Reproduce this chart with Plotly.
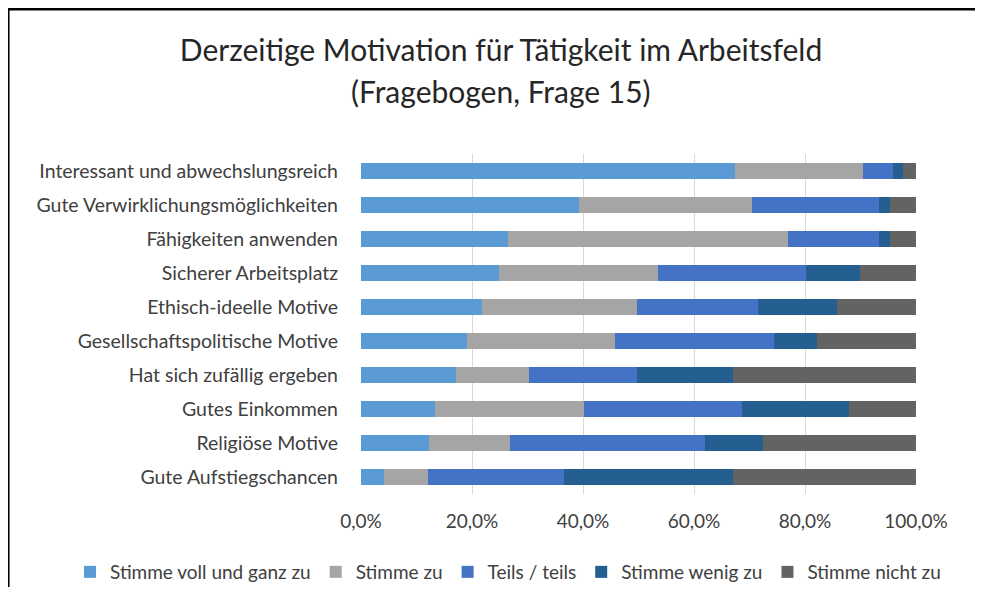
import plotly.graph_objects as go

# categories (top to bottom as in the chart)
categories = [
    "Interessant und abwechslungsreich",
    "Gute Verwirklichungsmöglichkeiten",
    "Fähigkeiten anwenden",
    "Sicherer Arbeitsplatz",
    "Ethisch-ideelle Motive",
    "Gesellschaftspolitische Motive",
    "Hat sich zufällig ergeben",
    "Gutes Einkommen",
    "Religiöse Motive",
    "Gute Aufstiegschancen",
]

# answer shares in percent
voll_und_ganz = [67.4, 39.3, 26.4, 24.9, 21.8, 19.1, 17.2, 13.4, 12.3, 4.1]
stimme_zu = [23.1, 31.1, 50.6, 28.6, 27.9, 26.6, 13.0, 26.7, 14.5, 7.9]
teils_teils = [5.4, 23.0, 16.4, 26.7, 21.9, 28.8, 19.5, 28.6, 35.2, 24.6]
wenig_zu = [1.7, 2.0, 1.9, 9.7, 14.2, 7.6, 17.4, 19.2, 10.4, 30.4]
nicht_zu = [2.4, 4.6, 4.7, 10.1, 14.2, 17.9, 32.9, 12.1, 27.6, 33.0]

x_ticks = [0, 0.2, 0.4, 0.6, 0.8, 1.0]

series = [
    ("Stimme voll und ganz zu", voll_und_ganz, "#5B9BD5"),
    ("Stimme zu", stimme_zu, "#A5A5A5"),
    ("Teils / teils", teils_teils, "#4472C4"),
    ("Stimme wenig zu", wenig_zu, "#255E91"),
    ("Stimme nicht zu", nicht_zu, "#636363"),
]

# the page body has an 8px margin, so the figure is a bit smaller than the window
W, H = 967, 579
L, R, T, B = 353, 59, 146, 93
FONT = "Lato"
TXT = "#404040"

fig = go.Figure()
for name, vals, col in series:
    fig.add_trace(go.Bar(
        y=categories, x=[v / 100 for v in vals], name=name, orientation="h",
        marker=dict(color=col, line=dict(width=0)),
    ))

pw, ph = W - L - R, H - T - B
def px(x):
    return (x - L) / pw
def py(y):
    return (H - B - y) / ph

fig.update_layout(
    width=W, height=H,
    barmode="stack", bargap=0.53,
    separators=",.",
    plot_bgcolor="white", paper_bgcolor="white",
    margin=dict(l=L, r=R, t=T, b=B, autoexpand=False),
    font=dict(family=FONT, color=TXT),
    title=dict(
        text="Derzeitige Motivation für Tätigkeit im Arbeitsfeld",
        x=px(493), xanchor="center", xref="paper",
        y=1 - 42 / H, yanchor="middle",
        font=dict(family=FONT, size=30, color="#262626"),
    ),
    annotations=[dict(
        text="(Fragebogen, Frage 15)", showarrow=False,
        xref="paper", yref="paper", x=px(493), y=py(83),
        xanchor="center", yanchor="middle",
        font=dict(family=FONT, size=30, color="#262626"),
    )],
    xaxis=dict(
        range=[0, 1], tickvals=x_ticks, tickformat=".1%",
        showgrid=True, gridcolor="#D9D9D9", gridwidth=1,
        zeroline=False, showline=False,
        tickfont=dict(size=19, color=TXT),
        ticklabelstandoff=14,
    ),
    yaxis=dict(
        autorange="reversed", showgrid=False, showline=False,
        tickfont=dict(size=19.5, color=TXT),
        ticklabelstandoff=22,
    ),
    legend=dict(
        orientation="h", xref="paper", yref="paper",
        x=px(62), xanchor="left", y=py(564), yanchor="middle",
        font=dict(size=19, color=TXT), traceorder="normal",
        itemwidth=30,
    ),
    shapes=[
        dict(type="line", xref="paper", yref="paper",
             x0=px(0), x1=px(W), y0=py(1.3), y1=py(1.3),
             line=dict(color="black", width=2.5)),
        dict(type="line", xref="paper", yref="paper",
             x0=px(0.3), x1=px(0.3), y0=py(0), y1=py(H),
             line=dict(color="black", width=2.5)),
    ],
)

fig.write_html("out.html")
